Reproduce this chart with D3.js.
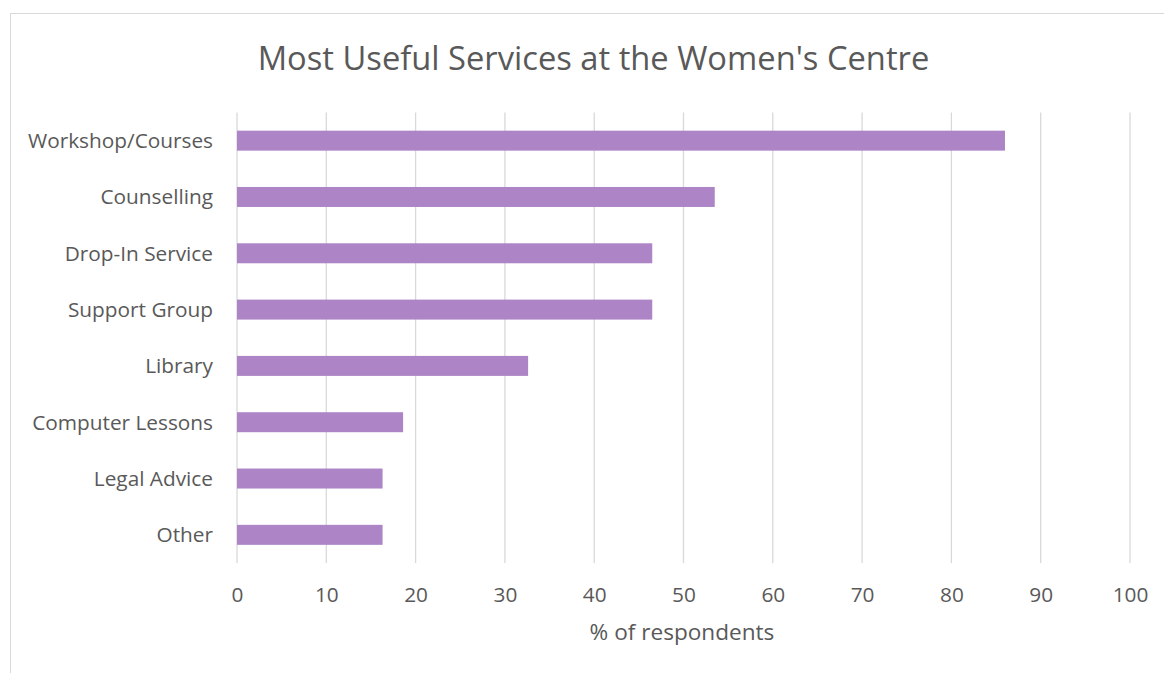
<!DOCTYPE html>
<html>
<head>
<meta charset="utf-8">
<script src="https://cdn.jsdelivr.net/npm/d3@7"></script>
<style>
  body { margin: 0; background: #fff; }
  text { font-family: "Open Sans", sans-serif; fill: #595959; }
</style>
</head>
<body>
<svg id="chart" width="1164" height="673"></svg>
<script>
// data
const categories = ["Workshop/Courses", "Counselling", "Drop-In Service", "Support Group",
    "Library", "Computer Lessons", "Legal Advice", "Other"];
const values = [86.0, 53.5, 46.5, 46.5, 32.6, 18.6, 16.3, 16.3];
const xTicks = [0, 10, 20, 30, 40, 50, 60, 70, 80, 90, 100];

const svg = d3.select("#chart");

const plot = { left: 237, right: 1130, top: 112.5, bottom: 563 };

// chart frame (only left and top edges visible in the crop)
svg.append("rect")
    .attr("x", 10.5)
    .attr("y", 13.5)
    .attr("width", 1300)
    .attr("height", 800)
    .style("fill", "none")
    .style("stroke", "#d9d9d9")
    .style("stroke-width", 1);

const x = d3.scaleLinear().domain([0, 100]).range([plot.left, plot.right]);
const y = d3.scaleBand()
    .domain(categories)
    .range([plot.top, plot.bottom])
    .paddingInner(0.645)
    .paddingOuter(0.3225);

// gridlines
svg.append("g")
    .selectAll("line")
    .data(xTicks)
    .enter().append("line")
    .attr("x1", d => x(d))
    .attr("x2", d => x(d))
    .attr("y1", plot.top)
    .attr("y2", plot.bottom)
    .style("stroke", "#d9d9d9")
    .style("stroke-width", 1.3);

// bars
svg.append("g")
    .selectAll("rect")
    .data(values)
    .enter().append("rect")
    .attr("x", x(0))
    .attr("y", (d, i) => y(categories[i]))
    .attr("width", d => x(d) - x(0))
    .attr("height", y.bandwidth())
    .style("fill", "#ad85c6");

// x tick labels
const xAxis = d3.axisBottom(x).tickValues(xTicks).tickSize(0).tickPadding(0);
const gx = svg.append("g")
    .attr("transform", "translate(0," + 601.5 + ")")
    .call(xAxis);
gx.select(".domain").remove();
gx.selectAll("text")
    .attr("dy", 0)
    .style("font-size", "20.8px")
    .style("fill", "#595959")
    .style("font-family", "'Open Sans', sans-serif");

// category labels
const yAxis = d3.axisLeft(y).tickSize(0).tickPadding(0);
const gy = svg.append("g")
    .attr("transform", "translate(" + 213 + ",0)")
    .call(yAxis);
gy.select(".domain").remove();
gy.selectAll("text")
    .attr("dy", "0.35em")
    .style("font-size", "20.8px")
    .style("fill", "#595959")
    .style("font-family", "'Open Sans', sans-serif");

// title
svg.append("text")
    .attr("x", 593.5)
    .attr("y", 70)
    .attr("text-anchor", "middle")
    .style("font-size", "32.7px")
    .text("Most Useful Services at the Women's Centre");

// axis title
svg.append("text")
    .attr("x", 682)
    .attr("y", 639.5)
    .attr("text-anchor", "middle")
    .style("font-size", "22.6px")
    .text("% of respondents");
</script>
</body>
</html>
